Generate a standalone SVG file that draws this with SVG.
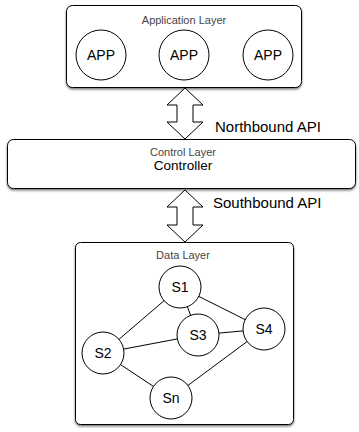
<svg xmlns="http://www.w3.org/2000/svg" width="359" height="432" viewBox="0 0 359 432">
<defs>
<filter id="sh" x="-10%" y="-10%" width="120%" height="130%">
<feDropShadow dx="0" dy="1.5" stdDeviation="1" flood-color="#000" flood-opacity="0.55"/>
</filter>
</defs>
<style>
.box{fill:#fff;stroke:#000;stroke-width:1;filter:url(#sh)}
.node{fill:#fff;stroke:#000;stroke-width:1}
.lbl{font-family:"Liberation Sans",Arial,sans-serif;text-anchor:middle;fill:#000}
.small{font-family:"Liberation Sans",Arial,sans-serif;text-anchor:middle;font-size:11px;fill:#444}
.api{font-family:"Liberation Sans",Arial,sans-serif;font-size:15px;fill:#000}
.edge{stroke:#000;stroke-width:1;fill:none}
.arrow{fill:#fff;stroke:#000;stroke-width:1}
</style>
<g id="application-layer">
<rect class="box" x="66.5" y="5.5" width="235" height="82" rx="6"/>
<text class="small" x="184" y="24">Application Layer</text>
</g>
<g id="app1"><circle class="node" cx="101" cy="55" r="25"/><text class="lbl" x="101" y="60" font-size="14">APP</text></g>
<g id="app2"><circle class="node" cx="184" cy="55" r="25"/><text class="lbl" x="184" y="60" font-size="14">APP</text></g>
<g id="app3"><circle class="node" cx="268" cy="55" r="25"/><text class="lbl" x="268" y="60" font-size="14">APP</text></g>
<g id="control-layer">
<rect class="box" x="7.5" y="139.5" width="348" height="49" rx="6"/>
<text class="small" x="183" y="156" font-size="12">Control Layer</text>
<text class="lbl" x="183" y="170" font-size="13.5">Controller</text>
</g>
<g id="data-layer">
<rect class="box" x="75.5" y="242.5" width="218" height="182" rx="5"/>
<text class="small" x="183" y="259">Data Layer</text>
</g>
<g id="connectors">
<path class="arrow" d="M185,88 L203,105 L193,105 L193,122 L203,122 L185,139 L167,122 L177,122 L177,105 L167,105 Z"/>
<path class="arrow" d="M185,190 L203,207 L193,207 L193,225 L203,225 L185,242 L167,225 L177,225 L177,207 L167,207 Z"/>
<line class="edge" x1="180" y1="287" x2="103" y2="353"/>
<line class="edge" x1="180" y1="287" x2="198" y2="335"/>
<line class="edge" x1="180" y1="287" x2="264" y2="329"/>
<line class="edge" x1="103" y1="353" x2="198" y2="335"/>
<line class="edge" x1="198" y1="335" x2="264" y2="329"/>
<line class="edge" x1="103" y1="353" x2="171" y2="398"/>
<line class="edge" x1="171" y1="398" x2="264" y2="329"/>
</g>
<text class="api" x="215" y="132">Northbound API</text>
<text class="api" x="213" y="208">Southbound API</text>
<g id="s1"><circle class="node" cx="180" cy="287" r="21"/><text class="lbl" x="180" y="292" font-size="14">S1</text></g>
<g id="s3"><circle class="node" cx="198" cy="335" r="21"/><text class="lbl" x="198" y="340" font-size="14">S3</text></g>
<g id="s4"><circle class="node" cx="264" cy="329" r="21"/><text class="lbl" x="264" y="334" font-size="14">S4</text></g>
<g id="s2"><circle class="node" cx="103" cy="353" r="21"/><text class="lbl" x="103" y="358" font-size="14">S2</text></g>
<g id="sn"><circle class="node" cx="171" cy="398" r="21"/><text class="lbl" x="171" y="403" font-size="14">Sn</text></g>
</svg>
